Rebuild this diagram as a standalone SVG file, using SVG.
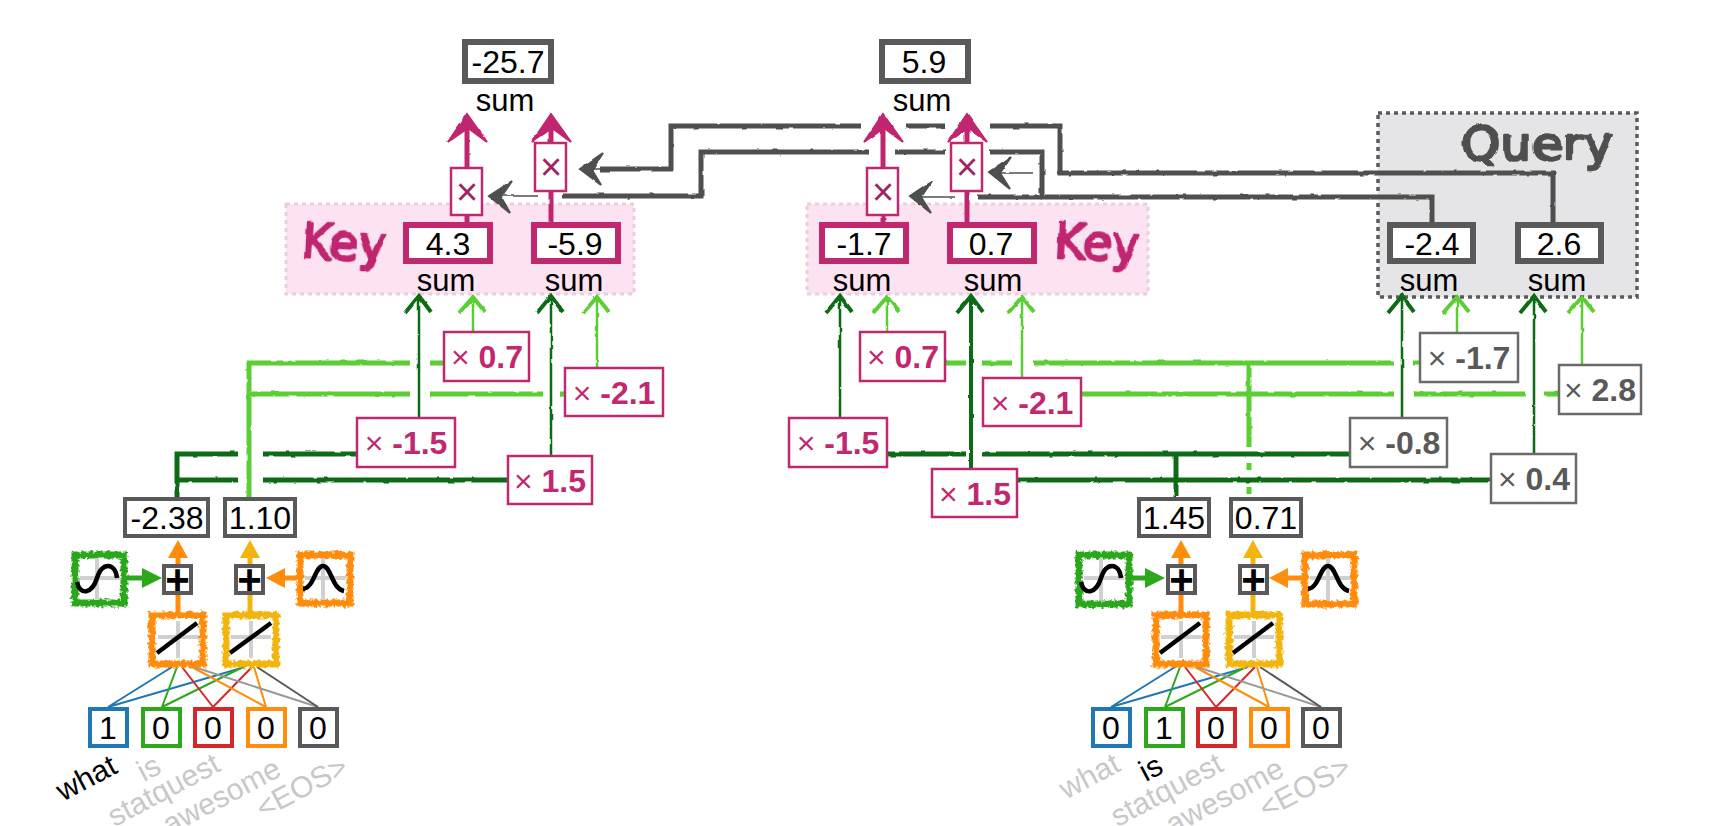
<svg xmlns="http://www.w3.org/2000/svg" width="1731" height="826" viewBox="0 0 1731 826">
<style>
text{font-family:"Liberation Sans",Arial,sans-serif;text-anchor:middle;fill:#000}
.val{font-size:32px}
.big{font-size:32px}
.sum{font-size:31px}
.bx{fill:#fff;stroke:#595959;stroke-width:4}
.tot{fill:#fff;stroke:#595959;stroke-width:6}
.key{fill:#fff;stroke:#c0286f;stroke-width:6}
.qry{fill:#fff;stroke:#595959;stroke-width:6}
.pm{fill:#fff;stroke:#c0286f;stroke-width:2.5}
.gm{fill:#fff;stroke:#6a6a6a;stroke-width:2.5}
.pt{font-size:32px;fill:#c0286f}
.gt{font-size:32px;fill:#595959}
.pt tspan,.gt tspan{font-weight:700}
.sx{font-size:38px;fill:#a0245f}
.lbl{font-size:30px;text-anchor:end;fill:#c8c8c8}
.on{fill:#000}
.hw{font-family:"DejaVu Sans",sans-serif;stroke-width:2.5;stroke-linejoin:round}
.hp{fill:#c0286f;stroke:#c0286f}
.hg{fill:#4f4f4f;stroke:#4f4f4f}
.ax{stroke:#d0d0d0;stroke-width:4;fill:none}
.cv{stroke:#000;stroke-width:4.5;fill:none}
.sk{fill:#fff;stroke-width:7}
.w{fill:none;stroke-width:2}
.dk{fill:none;stroke:#0f6b12}
.lt{fill:none;stroke:#5ace32}
.gr{fill:none;stroke:#4f4f4f}
.gh{fill:#4f4f4f;stroke:#4f4f4f;stroke-width:2}
.pk{fill:none;stroke:#c0286f}
.dh{fill:none;stroke:#0f6b12;stroke-width:2.5}
.lh{fill:none;stroke:#5ace32;stroke-width:2.5}
.db{fill:none;stroke:#0f6b12;stroke-width:4}
.lb{fill:none;stroke:#5ace32;stroke-width:4}
.ar{fill:none;stroke-width:5}
.plus{font-size:42px;font-weight:700}
</style>
<defs>
<filter id="rough" filterUnits="userSpaceOnUse" x="0" y="0" width="1731" height="826">
<feTurbulence type="fractalNoise" baseFrequency="0.09" numOctaves="2" seed="4"/>
<feDisplacementMap in="SourceGraphic" scale="2.5" xChannelSelector="R" yChannelSelector="G"/>
</filter>
<filter id="rough2" filterUnits="userSpaceOnUse" x="0" y="0" width="1731" height="826">
<feTurbulence type="fractalNoise" baseFrequency="0.05" numOctaves="2" seed="9"/>
<feDisplacementMap in="SourceGraphic" scale="5" xChannelSelector="R" yChannelSelector="G"/>
</filter>
<filter id="fuzz" filterUnits="userSpaceOnUse" x="0" y="0" width="1731" height="826">
<feTurbulence type="fractalNoise" baseFrequency="0.28" numOctaves="2" seed="7"/>
<feDisplacementMap in="SourceGraphic" scale="6" xChannelSelector="R" yChannelSelector="G"/>
</filter>
</defs>

<g id="panel-key-1"><rect x="286" y="204" width="348" height="90" fill="#fde2f1" stroke="#e8cfe0" stroke-width="3" stroke-dasharray="4 4"/></g>
<g id="panel-key-2"><rect x="807" y="204" width="341" height="90" fill="#fde2f1" stroke="#e8cfe0" stroke-width="3" stroke-dasharray="4 4"/></g>
<g id="panel-query"><rect x="1378" y="113" width="259" height="184" fill="#e5e5e7" stroke="#5a5a5a" stroke-width="3.5" stroke-dasharray="4 4"/></g>

<g id="connectors">
 <g filter="url(#rough)">
  <g class="gr" stroke-width="5">
   <path d="M1432 222V197H1042V152H990"/>
   <path d="M945 152H895M869 152H701V196H562"/>
   <path d="M1553 222V173H1060V126H990"/>
   <path d="M945 126H906M861 126H671V169H600"/>
   <path d="M978 197H1042"/>
  </g>
  <g class="gr" stroke-width="2" stroke-opacity="0.75">
   <path d="M538 196H500M600 169H590M955 197H920M1033 173H1000"/>
  </g>
  <g class="gh">
   <path d="M512 181L489 196L510 213L501 197Z"/>
   <path d="M603 153L580 169L601 185L592 170Z"/>
   <path d="M932 181L910 196L931 213L921 197Z"/>
   <path d="M1011 157L989 172L1010 189L1000 173Z"/>
  </g>
  <g class="lt" stroke-width="5">
   <path d="M249 497V363H410M430 363H444M249 394H410M430 394H543M560 394H565"/>
   <path d="M946 363H966M982 363H1012M1034 363H1394M1413 363H1420"/>
   <path d="M1081 394H1394M1414 394H1526M1544 394H1558"/>
   <path d="M1249 363V447M1249 463V470M1249 487V494"/>
  </g>
  <g class="dk" stroke-width="5">
   <path d="M177 497V454H238M263 454H357M177 480H238M263 480H508"/>
   <path d="M887 454H966M982 454H1350M1017 480H1491M1176 454V497"/>
  </g>
  <g class="dh">
   <path d="M419 418V297"/><path d="M551 456V297"/><path d="M840 418V297"/>
   <path d="M971 469V297" stroke-width="4"/><path d="M1402 418V297"/><path d="M1534 454V297"/>
  </g>
  <g class="db">
   <path d="M405 313L419 296L431 312"/><path d="M537 313L551 296L563 312"/><path d="M826 313L840 296L852 312"/>
   <path d="M957 313L971 296L983 312"/><path d="M1388 313L1402 296L1414 312"/><path d="M1520 313L1534 296L1546 312"/>
  </g>
  <g class="lh">
   <path d="M473 332V298"/><path d="M597 368V298"/><path d="M887 332V298"/>
   <path d="M1022 378V298"/><path d="M1457 333V298"/><path d="M1582 365V298"/>
  </g>
  <g class="lb">
   <path d="M459 313L473 297L485 312"/><path d="M583 313L597 297L609 312"/><path d="M873 313L887 297L899 312"/>
   <path d="M1008 313L1022 297L1034 312"/><path d="M1443 313L1457 297L1469 312"/><path d="M1568 313L1582 297L1594 312"/>
  </g>
  <g class="pk" stroke-width="5">
   <path d="M467 222V215M467 168V125M551 222V191M551 143V125M883 222V215M883 168V125M967 222V191M967 143V125"/>
  </g>
  <g fill="#c0286f" stroke="#c0286f" stroke-width="2">
   <path d="M467 114L487 142L468 128L448 142Z"/>
   <path d="M551 114L571 142L552 128L532 142Z"/>
   <path d="M883 114L903 142L884 128L864 142Z"/>
   <path d="M967 114L987 142L968 128L948 142Z"/>
  </g>
 </g>
 <g class="ar">
  <path d="M178 612V552" stroke="#ff8c0a"/><path d="M168 558L178 540L188 558Z" fill="#ff8c0a" stroke="none"/>
  <path d="M250 612V552" stroke="#f2b40f"/><path d="M240 558L250 540L260 558Z" fill="#f2b40f" stroke="none"/>
  <path d="M127 578H146" stroke="#2ca81a"/><path d="M142 568L162 578L142 588Z" fill="#2ca81a" stroke="none"/>
  <path d="M297 578H281" stroke="#ff8c0a"/><path d="M285 568L266 578L285 588Z" fill="#ff8c0a" stroke="none"/>
  <path d="M1181 612V552" stroke="#ff8c0a"/><path d="M1171 558L1181 540L1191 558Z" fill="#ff8c0a" stroke="none"/>
  <path d="M1253 612V552" stroke="#f2b40f"/><path d="M1243 558L1253 540L1263 558Z" fill="#f2b40f" stroke="none"/>
  <path d="M1130 578H1149" stroke="#2ca81a"/><path d="M1145 568L1165 578L1145 588Z" fill="#2ca81a" stroke="none"/>
  <path d="M1302 578H1286" stroke="#ff8c0a"/><path d="M1288 568L1269 578L1288 588Z" fill="#ff8c0a" stroke="none"/>
 </g>
 <g class="w">
  <path d="M108 707L172 667M108 707L245 667" stroke="#1f77b4"/>
  <path d="M162 707L177 667M162 707L243 667" stroke="#2ca81a"/>
  <path d="M213 707L182 667M213 707L252 667" stroke="#d62728"/>
  <path d="M266 707L192 667M266 707L254 667" stroke="#ff8c0a"/>
  <path d="M318 707L194 667" stroke="#999"/><path d="M318 707L257 667" stroke="#595959"/>
  <path d="M1111 707L1175 667M1111 707L1248 667" stroke="#1f77b4"/>
  <path d="M1165 707L1180 667M1165 707L1246 667" stroke="#2ca81a"/>
  <path d="M1216 707L1185 667M1216 707L1255 667" stroke="#d62728"/>
  <path d="M1269 707L1195 667M1269 707L1257 667" stroke="#ff8c0a"/>
  <path d="M1321 707L1197 667" stroke="#999"/><path d="M1321 707L1260 667" stroke="#595959"/>
 </g>
</g>

<g id="key-label-1"><text class="hw hp" x="343" y="260" font-size="50" textLength="85" lengthAdjust="spacingAndGlyphs" filter="url(#rough2)" transform="rotate(3 343 260)">Key</text></g>
<g id="key-label-2"><text class="hw hp" x="1096" y="260" font-size="50" textLength="85" lengthAdjust="spacingAndGlyphs" filter="url(#rough2)" transform="rotate(3 1096 260)">Key</text></g>
<g id="query-label"><text class="hw hg" x="1537" y="160" font-size="46" textLength="152" lengthAdjust="spacingAndGlyphs" filter="url(#rough2)">Query</text></g>

<g id="total-1"><rect class="tot" x="465" y="42" width="86" height="39"/><text class="big" x="508" y="73">-25.7</text><text class="sum" x="505" y="111">sum</text></g>
<g id="total-2"><rect class="tot" x="882" y="42" width="86" height="39"/><text class="big" x="924" y="73">5.9</text><text class="sum" x="922" y="111">sum</text></g>

<g id="mul-1"><rect class="pm" x="451" y="168" width="31" height="47"/><text class="sx" x="467" y="205">×</text></g>
<g id="mul-2"><rect class="pm" x="535" y="143" width="31" height="48"/><text class="sx" x="551" y="180">×</text></g>
<g id="mul-3"><rect class="pm" x="867" y="168" width="31" height="47"/><text class="sx" x="883" y="205">×</text></g>
<g id="mul-4"><rect class="pm" x="951" y="143" width="31" height="48"/><text class="sx" x="967" y="180">×</text></g>

<g id="key-sum-1"><rect class="key" x="406" y="225" width="84" height="36"/><text class="val" x="448" y="255">4.3</text><text class="sum" x="446" y="291">sum</text></g>
<g id="key-sum-2"><rect class="key" x="534" y="225" width="84" height="36"/><text class="val" x="575" y="255">-5.9</text><text class="sum" x="574" y="291">sum</text></g>
<g id="key-sum-3"><rect class="key" x="822" y="225" width="84" height="36"/><text class="val" x="864" y="255">-1.7</text><text class="sum" x="862" y="291">sum</text></g>
<g id="key-sum-4"><rect class="key" x="950" y="225" width="84" height="36"/><text class="val" x="991" y="255">0.7</text><text class="sum" x="993" y="291">sum</text></g>
<g id="query-sum-1"><rect class="qry" x="1390" y="225" width="83" height="36"/><text class="val" x="1432" y="255">-2.4</text><text class="sum" x="1429" y="291">sum</text></g>
<g id="query-sum-2"><rect class="qry" x="1518" y="225" width="83" height="36"/><text class="val" x="1559" y="255">2.6</text><text class="sum" x="1557" y="291">sum</text></g>

<g id="w-k1"><rect class="pm" x="444" y="332" width="85" height="49"/><text class="pt" x="487" y="368">× <tspan>0.7</tspan></text></g>
<g id="w-k2"><rect class="pm" x="565" y="368" width="98" height="48"/><text class="pt" x="614" y="404">× <tspan>-2.1</tspan></text></g>
<g id="w-k3"><rect class="pm" x="357" y="418" width="98" height="49"/><text class="pt" x="406" y="454">× <tspan>-1.5</tspan></text></g>
<g id="w-k4"><rect class="pm" x="508" y="456" width="84" height="48"/><text class="pt" x="550" y="492">× <tspan>1.5</tspan></text></g>
<g id="w-k5"><rect class="pm" x="860" y="332" width="85" height="49"/><text class="pt" x="903" y="368">× <tspan>0.7</tspan></text></g>
<g id="w-k6"><rect class="pm" x="983" y="378" width="98" height="48"/><text class="pt" x="1032" y="414">× <tspan>-2.1</tspan></text></g>
<g id="w-k7"><rect class="pm" x="789" y="418" width="98" height="49"/><text class="pt" x="838" y="454">× <tspan>-1.5</tspan></text></g>
<g id="w-k8"><rect class="pm" x="932" y="469" width="85" height="48"/><text class="pt" x="975" y="505">× <tspan>1.5</tspan></text></g>
<g id="w-q1"><rect class="gm" x="1420" y="333" width="98" height="49"/><text class="gt" x="1469" y="369">× <tspan>-1.7</tspan></text></g>
<g id="w-q2"><rect class="gm" x="1559" y="365" width="82" height="49"/><text class="gt" x="1600" y="401">× <tspan>2.8</tspan></text></g>
<g id="w-q3"><rect class="gm" x="1350" y="418" width="97" height="49"/><text class="gt" x="1399" y="454">× <tspan>-0.8</tspan></text></g>
<g id="w-q4"><rect class="gm" x="1491" y="454" width="85" height="49"/><text class="gt" x="1534" y="490">× <tspan>0.4</tspan></text></g>

<g id="out-1"><rect class="bx" x="125" y="499" width="83" height="37"/><text class="val" x="167" y="529">-2.38</text></g>
<g id="out-2"><rect class="bx" x="225" y="499" width="70" height="37"/><text class="val" x="260" y="529">1.10</text></g>
<g id="out-3"><rect class="bx" x="1139" y="499" width="70" height="37"/><text class="val" x="1174" y="529">1.45</text></g>
<g id="out-4"><rect class="bx" x="1231" y="499" width="70" height="37"/><text class="val" x="1266" y="529">0.71</text></g>

<g id="plus-1"><rect class="bx" x="164" y="566" width="27" height="27"/><text class="plus" x="177.500" y="594">+</text></g>
<g id="plus-2"><rect class="bx" x="236" y="566" width="27" height="27"/><text class="plus" x="249.500" y="594">+</text></g>
<g id="plus-3"><rect class="bx" x="1168" y="566" width="27" height="27"/><text class="plus" x="1181.500" y="594">+</text></g>
<g id="plus-4"><rect class="bx" x="1240" y="566" width="27" height="27"/><text class="plus" x="1253.500" y="594">+</text></g>

<g id="sigmoid-1"><rect class="sk" x="75" y="555" width="49" height="48" stroke="#2ca81a" filter="url(#fuzz)"/><path class="ax" d="M97 558V600M80 578H120"/><path class="cv" d="M77 582C80 596 92 594 97 578C102 562 115 562 117 578"/></g>
<g id="bell-1"><rect class="sk" x="300" y="555" width="50" height="48" stroke="#ff8c0a" filter="url(#fuzz)"/><path class="ax" d="M323 558V600M305 578H345"/><path class="cv" d="M303 589C314 588 315 566 323 566C331 566 332 589 344 591"/></g>
<g id="sigmoid-2"><rect class="sk" x="1079" y="555" width="50" height="49" stroke="#2ca81a" filter="url(#fuzz)"/><path class="ax" d="M1101 558V600M1084 578H1124"/><path class="cv" d="M1081 582C1084 596 1096 594 1101 578C1106 562 1119 562 1121 578"/></g>
<g id="bell-2"><rect class="sk" x="1305" y="555" width="49" height="49" stroke="#ff8c0a" filter="url(#fuzz)"/><path class="ax" d="M1328 558V600M1310 578H1350"/><path class="cv" d="M1308 589C1319 588 1320 566 1328 566C1336 566 1337 589 1349 591"/></g>

<g id="linear-1"><rect class="sk" x="152" y="615" width="51" height="49" stroke="#ff8c0a" filter="url(#fuzz)"/><path class="ax" d="M178 621V658M158 637H198"/><path class="cv" d="M157 653L197 623"/></g>
<g id="linear-2"><rect class="sk" x="226" y="615" width="50" height="49" stroke="#f2b40f" filter="url(#fuzz)"/><path class="ax" d="M251 621V658M231 637H271"/><path class="cv" d="M230 653L271 623"/></g>
<g id="linear-3"><rect class="sk" x="1156" y="615" width="50" height="49" stroke="#ff8c0a" filter="url(#fuzz)"/><path class="ax" d="M1181 621V658M1161 637H1201"/><path class="cv" d="M1160 653L1200 623"/></g>
<g id="linear-4"><rect class="sk" x="1229" y="615" width="50" height="49" stroke="#f2b40f" filter="url(#fuzz)"/><path class="ax" d="M1254 621V658M1234 637H1274"/><path class="cv" d="M1233 653L1273 623"/></g>

<g id="in-1-what"><rect class="bx" x="90" y="709" width="37" height="37" style="stroke:#1f77b4"/><text class="val" x="108" y="739">1</text><text class="lbl on" transform="translate(119 772) rotate(-28)">what</text></g>
<g id="in-1-is"><rect class="bx" x="143" y="709" width="37" height="37" style="stroke:#2ca81a"/><text class="val" x="161" y="739">0</text><text class="lbl" transform="translate(163 772) rotate(-28)">is</text></g>
<g id="in-1-statquest"><rect class="bx" x="195" y="709" width="37" height="37" style="stroke:#d62728"/><text class="val" x="213" y="739">0</text><text class="lbl" transform="translate(222 770) rotate(-28)">statquest</text></g>
<g id="in-1-awesome"><rect class="bx" x="248" y="709" width="37" height="37" style="stroke:#ff8c0a"/><text class="val" x="266" y="739">0</text><text class="lbl" transform="translate(283 775) rotate(-28)">awesome</text></g>
<g id="in-1-eos"><rect class="bx" x="300" y="709" width="37" height="37" style="stroke:#595959"/><text class="val" x="318" y="739">0</text><text class="lbl" transform="translate(350 773) rotate(-28)">&lt;EOS&gt;</text></g>

<g id="in-2-what"><rect class="bx" x="1093" y="709" width="37" height="37" style="stroke:#1f77b4"/><text class="val" x="1111" y="739">0</text><text class="lbl" transform="translate(1122 770) rotate(-28)">what</text></g>
<g id="in-2-is"><rect class="bx" x="1146" y="709" width="37" height="37" style="stroke:#2ca81a"/><text class="val" x="1164" y="739">1</text><text class="lbl on" transform="translate(1165 772) rotate(-28)">is</text></g>
<g id="in-2-statquest"><rect class="bx" x="1198" y="709" width="37" height="37" style="stroke:#d62728"/><text class="val" x="1216" y="739">0</text><text class="lbl" transform="translate(1225 770) rotate(-28)">statquest</text></g>
<g id="in-2-awesome"><rect class="bx" x="1251" y="709" width="37" height="37" style="stroke:#ff8c0a"/><text class="val" x="1269" y="739">0</text><text class="lbl" transform="translate(1286 775) rotate(-28)">awesome</text></g>
<g id="in-2-eos"><rect class="bx" x="1303" y="709" width="37" height="37" style="stroke:#595959"/><text class="val" x="1321" y="739">0</text><text class="lbl" transform="translate(1353 773) rotate(-28)">&lt;EOS&gt;</text></g>
</svg>
